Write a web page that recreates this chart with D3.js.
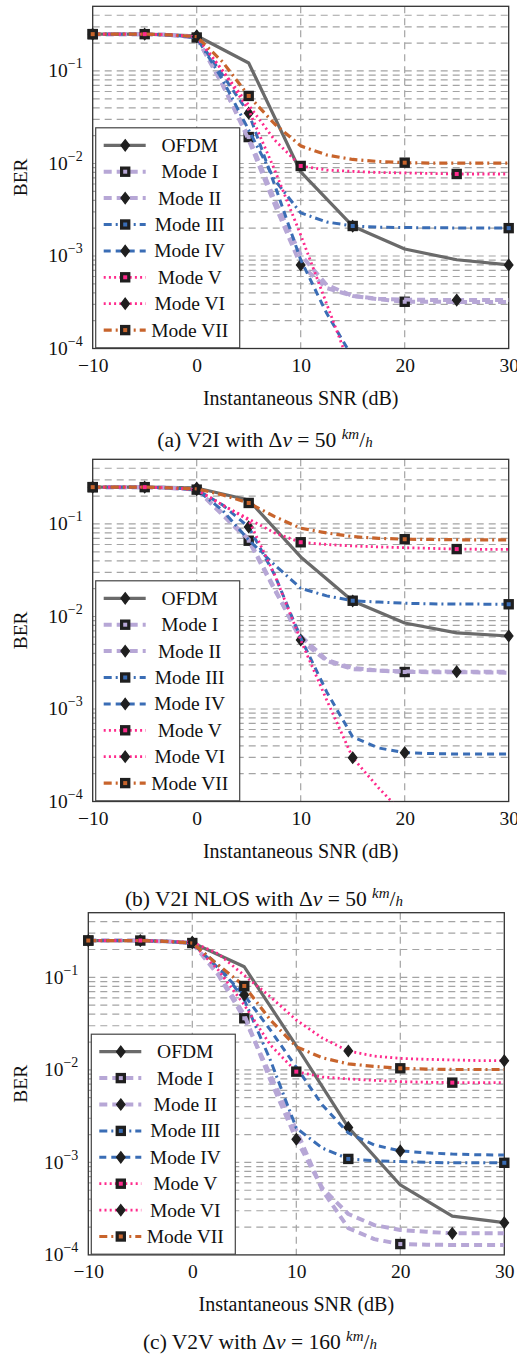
<!DOCTYPE html>
<html><head><meta charset="utf-8">
<script src="https://cdn.jsdelivr.net/npm/d3@7"></script>
<style>
body{margin:0;background:#fff;}
svg text{font-family:"Liberation Serif","Times New Roman",serif;fill:#111;}
</style></head><body>
<svg id="fig" width="517" height="1355"></svg>
<script>
// ---------- data ----------
const seriesNames = ["OFDM","Mode I","Mode II","Mode III","Mode IV","Mode V","Mode VI","Mode VII"];
const snrCoarse = [-10,-5,0,5,10,15,20,25,30];
const snrFine = [-10,-7.5,-5,-2.5,0,2.5,5,7.5,10,12.5,15,17.5,20,22.5,25,27.5,30];
const xTicks = [-10,0,10,20,30];
const xTickLabels = ["\u221210","0","10","20","30"];
const yTickExps = [-1,-2,-3,-4];
// marker positions (SNR in dB) for each series
const markOFDM = [0,15,30], markI = [-10,5,20], markII = [-5,10,25], markIII = [0,15,30];
const markIV = [-10,5,20], markV = [-5,10,25], markVI = [0,15,30], markVII = [-10,5,20];

// (a) V2I, 50 km/h
const aOFDM = [0.25,0.25,0.24,0.122,0.0081,0.0021,0.00119,0.00091,0.0008];
const aI   = [0.25,0.25,0.25,0.245,0.23,0.07,0.0193,0.00403,0.00103,4.86e-4,3.7e-4,3.4e-4,3.2e-4,3.2e-4,3.18e-4,3.18e-4,3.18e-4];
const aII  = [0.25,0.25,0.25,0.245,0.23,0.072,0.018,0.0036,8.0e-4,4.5e-4,3.7e-4,3.45e-4,3.38e-4,3.35e-4,3.34e-4,3.34e-4,3.34e-4];
const aIII = [0.25,0.25,0.25,0.245,0.23,0.08,0.023,0.00664,0.00292,0.00233,0.00211,0.00205,0.00203,0.00202,0.00201,0.00201,0.002];
const aIV  = [0.25,0.25,0.25,0.245,0.23,0.09,0.035,0.00586,9.1e-4,2.4e-4,8e-5];
const aV   = [0.25,0.25,0.25,0.245,0.235,0.1,0.0428,0.0179,0.0094,0.0085,0.0082,0.008,0.0079,0.0078,0.0077,0.0077,0.0077];
const aVI  = [0.25,0.25,0.25,0.245,0.235,0.1,0.0379,0.0085,0.00169,3.03e-4,5.4e-5];
const aVII = [0.25,0.25,0.25,0.245,0.235,0.125,0.0537,0.0267,0.0155,0.01235,0.01105,0.0105,0.0102,0.0101,0.0101,0.0101,0.0101];

// (b) V2I NLOS, 50 km/h
const bOFDM = [0.25,0.25,0.245,0.1816,0.044,0.0147,0.0085,0.00664,0.00615];
const bI   = [0.25,0.25,0.25,0.245,0.235,0.125,0.0659,0.0193,0.00615,0.00339,0.00277,0.0026,0.00251,0.0025,0.0025,0.00248,0.00247];
const bII  = [0.25,0.25,0.25,0.245,0.235,0.13,0.068,0.02,0.00557,0.0033,0.0027,0.0026,0.00255,0.00254,0.00253,0.00253,0.00253];
const bIII = [0.25,0.25,0.25,0.245,0.235,0.14,0.0672,0.036,0.0202,0.0167,0.0148,0.0143,0.0139,0.0137,0.0136,0.0136,0.01355];
const bIV  = [0.25,0.25,0.25,0.245,0.235,0.16,0.0929,0.0281,0.00586,0.00153,4.98e-4,3.79e-4,3.37e-4,3.3e-4,3.26e-4,3.26e-4,3.26e-4];
const bV   = [0.25,0.25,0.25,0.245,0.235,0.16,0.113,0.08,0.0634,0.06,0.0578,0.0565,0.0554,0.0545,0.0535,0.0532,0.0532];
const bVI  = [0.25,0.25,0.25,0.245,0.235,0.16,0.11,0.0281,0.00557,0.00125,2.97e-4,1.4e-4,7.1e-5];
const bVII = [0.25,0.25,0.25,0.245,0.24,0.206,0.1687,0.12,0.09,0.08,0.073,0.07,0.0684,0.068,0.0675,0.0672,0.0672];

// (c) V2V, 160 km/h
const cOFDM = [0.25,0.25,0.237,0.13,0.0182,0.00239,5.7e-4,2.63e-4,2.23e-4];
const cI   = [0.25,0.25,0.25,0.245,0.235,0.106,0.0361,0.00881,0.00224,5.02e-4,1.95e-4,1.48e-4,1.31e-4,1.29e-4,1.28e-4,1.28e-4,1.28e-4];
const cII  = [0.25,0.25,0.25,0.245,0.235,0.11,0.0393,0.00778,0.00178,5.28e-4,2.77e-4,2.1e-4,1.86e-4,1.78e-4,1.71e-4,1.71e-4,1.71e-4];
const cIII = [0.25,0.25,0.25,0.245,0.235,0.136,0.057,0.0128,0.00235,0.00143,0.00109,0.00104,0.00102,0.001,0.00099,0.00099,0.00099];
const cIV  = [0.25,0.25,0.25,0.245,0.235,0.126,0.0645,0.027,0.0107,0.00418,0.00208,0.00154,0.00133,0.00127,0.00123,0.00121,0.0012];
const cV   = [0.25,0.25,0.25,0.245,0.235,0.12,0.0503,0.0186,0.00957,0.00838,0.00798,0.0077,0.00746,0.00735,0.00728,0.00728,0.00728];
const cVI  = [0.25,0.25,0.25,0.245,0.24,0.18,0.105,0.0618,0.0346,0.0221,0.016,0.0141,0.0133,0.013,0.0128,0.0126,0.01257];
const cVII = [0.25,0.25,0.25,0.245,0.235,0.136,0.0807,0.0347,0.0178,0.0135,0.0116,0.0109,0.0104,0.0102,0.0101,0.0101,0.0101];

const captionPrefix = ["(a) V2I with ","(b) V2I NLOS with ","(c) V2V with "];
const captionSpeed = ["50","50","160"];

// ---------- styles ----------
const styles = [
  {color:"#6a6a6a", width:3.2, dash:null,        mark:"diamond"},
  {color:"#b7a7d6", width:4,   dash:"8,5",       mark:"square"},
  {color:"#b7a7d6", width:4,   dash:"8,5",       mark:"diamond"},
  {color:"#3a6db5", width:3,   dash:"8,4,2,4",   mark:"square"},
  {color:"#3a6db5", width:3,   dash:"7,5",       mark:"diamond"},
  {color:"#ff2a8c", width:2.8, dash:"2,3.2",     mark:"square"},
  {color:"#ff2a8c", width:2.8, dash:"2,3.2",     mark:"diamond"},
  {color:"#c8642c", width:3.2, dash:"8,4,2,4",   mark:"square"}
];
const marks = [markOFDM,markI,markII,markIII,markIV,markV,markVI,markVII];

const charts = [
  {id:"a", left:92.7, top:6.3,   series:[aOFDM,aI,aII,aIII,aIV,aV,aVI,aVII]},
  {id:"b", left:92.7, top:459.3, series:[bOFDM,bI,bII,bIII,bIV,bV,bVI,bVII]},
  {id:"c", left:88.3, top:912.7, series:[cOFDM,cI,cII,cIII,cIV,cV,cVI,cVII]}
];

const svg = d3.select("#fig");
const W = 416, H = 342.2;

function drawMarker(sel, type, color){
  if(type==="square"){
    sel.append("rect").attr("x",-3.6).attr("y",-3.6).attr("width",7.2).attr("height",7.2)
      .attr("fill",color).attr("stroke","#1f1f1f").attr("stroke-width",3.2);
  } else {
    sel.append("path").attr("d","M0,-5.6L4.3,0L0,5.6L-4.3,0Z")
      .attr("fill","#1f1f1f").attr("stroke","#1f1f1f").attr("stroke-width",1.2).attr("stroke-linejoin","miter");
  }
}

charts.forEach((cfg, ci) => {
  const g = svg.append("g");
  const x = d3.scaleLinear().domain([-10,30]).range([cfg.left, cfg.left+W]);
  const y = d3.scaleLog().domain([1e-4,0.5]).range([cfg.top+H, cfg.top]);

  svg.append("clipPath").attr("id","clip"+cfg.id).append("rect")
    .attr("x",cfg.left).attr("y",cfg.top).attr("width",W).attr("height",H);

  // grid
  const gridVals = [];
  for(let e=-4;e<=-1;e++) for(let m=1;m<=9;m++){ const v=m*Math.pow(10,e); if(v>1.0001e-4 && v<0.4999) gridVals.push(v); }
  g.append("g").selectAll("line").data(gridVals).join("line")
    .attr("x1",cfg.left).attr("x2",cfg.left+W)
    .attr("y1",d=>y(d)).attr("y2",d=>y(d))
    .attr("stroke","#a4a4a4").attr("stroke-width",1.2).attr("stroke-dasharray","7,5");
  g.append("g").selectAll("line").data(xTicks.slice(1,-1)).join("line")
    .attr("x1",d=>x(d)).attr("x2",d=>x(d))
    .attr("y1",cfg.top).attr("y2",cfg.top+H)
    .attr("stroke","#a4a4a4").attr("stroke-width",1.2).attr("stroke-dasharray","7,5");

  // frame
  g.append("rect").attr("x",cfg.left).attr("y",cfg.top).attr("width",W).attr("height",H)
    .attr("fill","none").attr("stroke","#333").attr("stroke-width",1.3);

  // x axis
  const xa = g.append("g").attr("transform",`translate(0,${cfg.top+H})`)
    .call(d3.axisBottom(x).tickValues(xTicks).tickSize(0).tickPadding(0).tickFormat((d,i)=>xTickLabels[i]));
  xa.select(".domain").remove();
  xa.selectAll("text").attr("font-family","Liberation Serif").attr("font-size",19.5).attr("fill","#111")
    .attr("dy",null).attr("y",16.5).attr("dominant-baseline","central");

  // y axis
  const ya = g.append("g");
  yTickExps.forEach(e => {
    const t = ya.append("text").attr("x",cfg.left-10).attr("y",y(Math.pow(10,e))+6.5)
      .attr("text-anchor","end").attr("font-size",19.5);
    t.append("tspan").text("10");
    t.append("tspan").attr("font-size",14).attr("dy",-9).text("\u2212"+Math.abs(e));
  });

  // axis titles
  g.append("text").attr("transform",`translate(20,${cfg.top+H/2}) rotate(-90)`)
    .attr("text-anchor","middle").attr("dominant-baseline","central").attr("font-size",19.5).text("BER");
  g.append("text").attr("x",cfg.left+W/2).attr("y",cfg.top+H+49.5)
    .attr("text-anchor","middle").attr("dominant-baseline","central").attr("font-size",20).text("Instantaneous SNR (dB)");

  // series
  const plot = g.append("g");
  cfg.series.forEach((vals, si) => {
    const st = styles[si];
    const xs = si===0 ? snrCoarse : snrFine;
    const pts = vals.map((v,i)=>[xs[i], v]);
    const line = d3.line().x(d=>x(d[0])).y(d=>y(d[1]));
    plot.append("path").attr("d", line(pts)).attr("clip-path",`url(#clip${cfg.id})`)
      .attr("fill","none").attr("stroke",st.color).attr("stroke-width",st.width)
      .attr("stroke-dasharray",st.dash).attr("stroke-linejoin","round");
    pts.filter(p => marks[si].includes(p[0]) && p[1] >= 1e-4).forEach(p => {
      const mg = plot.append("g").attr("transform",`translate(${x(p[0])},${y(p[1])})`);
      drawMarker(mg, st.mark, st.color);
    });
  });

  // legend
  const lg = g.append("g").attr("transform",`translate(${cfg.left+3},${cfg.top+121.5})`);
  lg.append("rect").attr("width",144).attr("height",220).attr("fill","#fff").attr("stroke","#444").attr("stroke-width",1.2);
  seriesNames.forEach((name, i) => {
    const st = styles[i];
    const cy = 17.5 + i*26.4;
    lg.append("line").attr("x1",8).attr("x2",50).attr("y1",cy).attr("y2",cy)
      .attr("stroke",st.color).attr("stroke-width",st.width).attr("stroke-dasharray",st.dash);
    const mg = lg.append("g").attr("transform",`translate(29.5,${cy})`);
    drawMarker(mg, st.mark, st.color);
    lg.append("text").attr("x",94).attr("y",cy).attr("text-anchor","middle")
      .attr("dominant-baseline","central").attr("font-size",19.5).text(name);
  });

  // caption
  const capY = [440, 899, 1342][ci];
  const cap = g.append("text").attr("x",[265,264,260][ci]).attr("y",capY).attr("text-anchor","middle")
    .attr("dominant-baseline","central").attr("font-size",21.5);
  cap.append("tspan").text(captionPrefix[ci]);
  cap.append("tspan").text("\u0394");
  cap.append("tspan").attr("font-style","italic").text("v");
  cap.append("tspan").text(" = " + captionSpeed[ci] + " ");
  cap.append("tspan").attr("font-style","italic").attr("font-size",15).attr("dy",-6).text("km");
  cap.append("tspan").attr("font-size",21.5).attr("dy",6).text("/");
  cap.append("tspan").attr("font-style","italic").attr("font-size",15).attr("dy",2).text("h");
});
</script>
</body></html>
